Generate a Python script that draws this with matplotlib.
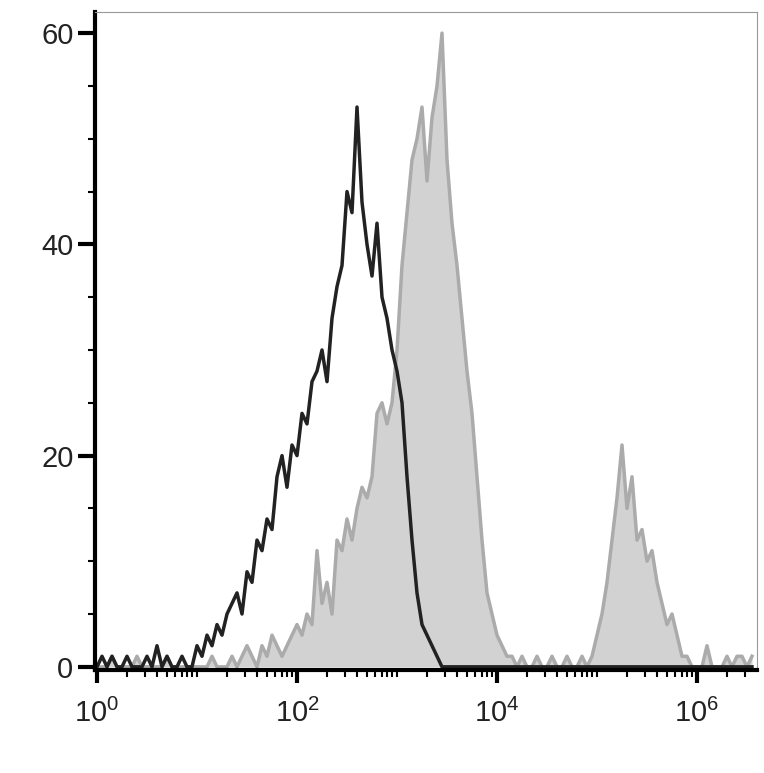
import numpy as np
import matplotlib
matplotlib.use("Agg")
import matplotlib.pyplot as plt
from matplotlib.ticker import FixedLocator, NullFormatter

plt.rcParams['font.family'] = ['Liberation Sans', 'DejaVu Sans']
plt.rcParams['mathtext.fontset'] = 'custom'
plt.rcParams['mathtext.rm'] = 'Liberation Sans'

# counts per bin; bin centres every 0.05 decade starting at 10^0
black_counts = [0,1,0,1,0,0,1,0,0,0, 1,0,2,0,1,0,0,1,0,0,
                2,1,3,2,4,3,5,6,7,5, 9,8,12,11,14,13,18,20,17,21,
                20,24,23,27,28,30,27,33,36,38, 45,43,53,44,40,37,42,35,33,30,
                28,25,18,12,7,4,3,2,1,0, 0,0,0,0,0,0,0,0,0,0,
                0,0,0,0,0,0,0,0,0,0, 0,0,0,0,0,0,0,0,0,0,
                0,0,0,0,0,0,0,0,0,0, 0,0,0,0,0,0,0,0,0,0,
                0,0,0,0,0,0,0,0,0,0,0,0]
gray_counts = [0,0,0,1,0,0,0,0,1,0, 0,0,0,0,1,0,0,0,0,0,
               0,0,0,1,0,0,0,1,0,1, 2,1,0,2,1,3,2,1,2,3,
               4,3,5,4,11,6,8,5,12,11, 14,12,15,17,16,18,24,25,23,25,
               30,38,43,48,50,53,46,52,55,60, 48,42,38,33,28,24,18,12,7,5,
               3,2,1,1,0,1,0,0,1,0, 0,1,0,0,1,0,0,1,0,1,
               3,5,8,12,16,21,15,18,12,13, 10,11,8,6,4,5,3,1,1,0,
               0,0,2,0,0,0,1,0,1,1,0,1]
decades = np.arange(len(black_counts)) * 0.05
x = 10 ** decades

fig = plt.figure(figsize=(7.64, 7.73), dpi=100)
ax = fig.add_axes([95/764, 1 - 670/773, (757-95)/764, (670-12)/773])

ax.fill_between(x, gray_counts, color="#d2d2d2", linewidth=0)
ax.plot(x, gray_counts, color="#ababab", linewidth=2.5)
ax.plot(x, black_counts, color="#222222", linewidth=2.5)

ax.set_xscale("log")
ax.set_xlim(10**-0.02, 10**6.6)
ax.set_ylim(-0.3, 62)

ax.set_yticks([0, 20, 40, 60])
ax.yaxis.set_minor_locator(FixedLocator([v for v in range(0, 62, 5) if v % 20]))
ax.set_xticks([1, 1e2, 1e4, 1e6])
ax.set_xticklabels([r"$10^0$", r"$10^2$", r"$10^4$", r"$10^6$"])
minor = [m * 10**d for d in range(0, 7) for m in range(2, 10)] + [10, 1e3, 1e5]
ax.xaxis.set_minor_locator(FixedLocator(minor))
ax.xaxis.set_minor_formatter(NullFormatter())

ax.tick_params(axis="both", which="major", length=9, width=3, labelsize=21, colors="black", labelcolor="#222222")
ax.tick_params(axis="both", which="minor", length=5, width=1.5)
ax.tick_params(axis="x", pad=12)
ax.tick_params(axis="y", which="major", length=12)
for s in ["left", "bottom"]:
    ax.spines[s].set_linewidth(3)
    ax.spines[s].set_color("black")
for s in ["top", "right"]:
    ax.spines[s].set_linewidth(0.8)
    ax.spines[s].set_color("#999999")

fig.savefig("out.png", dpi=100)
